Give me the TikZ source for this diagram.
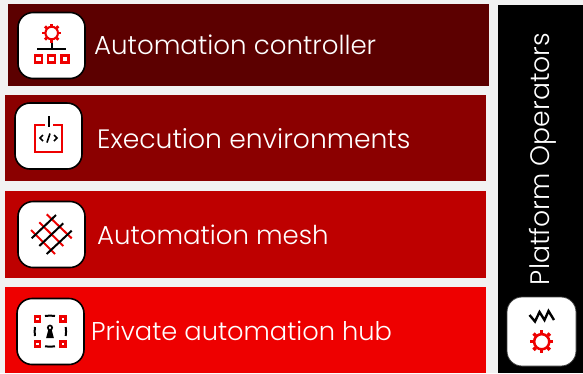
\documentclass[tikz,border=0pt]{standalone}
\usepackage{fontspec}
\setmainfont{Poppins}[UprightFont=* Light]
\definecolor{pagebg}{HTML}{F2F2F2}
\definecolor{barone}{HTML}{5C0000}
\definecolor{bartwo}{HTML}{8B0000}
\definecolor{barthree}{HTML}{BE0000}
\definecolor{barfour}{HTML}{EE0000}
\definecolor{iconred}{HTML}{EE0000}
\tikzset{
  barbox/.style={draw=none,minimum width=481pt,inner sep=0pt,anchor=north west},
  iconbox/.style={draw=black,line width=1.6pt,fill=white,rounded corners=15pt,minimum width=67pt,minimum height=66pt,inner sep=0pt},
  bartext/.style={text=white,anchor=west,inner sep=0pt},
  redline/.style={draw=iconred,line width=2pt},
  blackline/.style={draw=black,line width=2pt},
}
\newcommand{\gearicon}[3]{%
  \draw[redline,line width=#3*0.22pt] (#1,#2) circle[radius=#3*0.66];
  \foreach \ang in {0,45,...,315}
    \draw[iconred,line width=#3*0.3pt] ([shift={(\ang:#3*0.74)}]#1,#2) -- ([shift={(\ang:#3)}]#1,#2);
}
\begin{document}
\begin{tikzpicture}[x=1pt,y=-1pt]
\useasboundingbox (0,0) rectangle (583,373);
\fill[pagebg] (0,0) rectangle (583,373);
\node[barbox,fill=barone,minimum height=82pt] (bar1) at (8,4) {};
\node[barbox,fill=bartwo,minimum height=86pt] (bar2) at (5,95) {};
\node[barbox,fill=barthree,minimum height=87pt] (bar3) at (5,191) {};
\node[barbox,fill=barfour,minimum height=86pt] (bar4) at (5,287) {};
\node[fill=black,minimum width=85pt,minimum height=368pt,inner sep=0pt,anchor=north west] (side) at (498,5) {};
\node[iconbox] (icon1) at (51.5,45.5) {};
\node[iconbox] (icon2) at (48.5,136) {};
\node[iconbox] (icon3) at (51.5,234.5) {};
\node[iconbox] (icon4) at (50.5,331.5) {};
\node[iconbox,minimum width=69pt,minimum height=69pt,line width=0.8pt,draw=black!75] (icon5) at (541.5,331.5) {};
\node[bartext,font=\fontsize{26.1pt}{30pt}\selectfont] (t1) at (94,45) {Automation controller};
\node[bartext,font=\fontsize{26.6pt}{30pt}\selectfont] (t2) at (97,139) {Execution environments};
\node[bartext,font=\fontsize{26pt}{30pt}\selectfont] (t3) at (97,235) {Automation mesh};
\node[bartext,font=\fontsize{25.7pt}{30pt}\selectfont] (t4) at (91,331) {Private automation hub};
\node[text=white,font=\fontsize{26.7pt}{30pt}\selectfont,rotate=90,inner sep=0pt] (t5) at (543,159) {Platform Operators};
% icon 1
\gearicon{51.7}{33}{9.5}
\draw[blackline] (51.7,43) -- (51.7,49);
\draw[blackline] (37,49) -- (66,49);
\foreach \cx in {38.2,51.7,65}
  \draw[redline,line width=2.2pt] (\cx-3.5,55.5) rectangle (\cx+3.5,62.5);
% icon 2
\draw[redline] (45,124.5) -- (34.7,124.5) -- (34.7,151.5) -- (62.3,151.5) -- (62.3,124.5) -- (53,124.5);
\draw[blackline] (48.5,116) -- (48.5,127);
\draw[black,line width=1.7pt] (43,135) -- (40,138) -- (43,141);
\draw[black,line width=1.7pt] (54,135) -- (57,138) -- (54,141);
\draw[black,line width=1.7pt] (50,133.5) -- (47,142.5);
% icon 3
\draw[redline] (31,230) -- (55,254);
\draw[redline] (39.3,222.3) -- (63.3,246);
\draw[redline] (46.7,214.3) -- (71.7,238.3);
\draw[blackline] (31.7,238.3) -- (56,215);
\draw[blackline] (39.3,246) -- (63.3,223.3);
\draw[blackline] (46.7,254) -- (71.7,230.7);
% icon 4
\foreach \cx/\cy in {37.7/319,63/319,37.7/344,63/344}
  \draw[redline,line width=2.4pt] (\cx-2.5,\cy-2.5) rectangle (\cx+2.5,\cy+2.5);
\draw[blackline] (45,316) to[bend left=8] (55,316);
\draw[blackline] (45,346.3) to[bend right=8] (55,346.3);
\draw[blackline] (35,327) to[bend right=8] (35,336);
\draw[blackline] (65.7,327) to[bend left=8] (65.7,336);
\draw[black,line width=1.6pt] (50,327.7) circle[radius=2.2];
\draw[black,line width=1.4pt,fill=black] (49,330) -- (51,330) -- (53,337.5) -- (47,337.5) -- cycle;
% icon 5
\draw[blackline,line width=2.4pt] (529.5,315) -- (535,321.5) -- (539.5,312) -- (544.5,320) -- (548.5,311) -- (554,320);
\gearicon{541.7}{341.7}{11.5}
\end{tikzpicture}
\end{document}
